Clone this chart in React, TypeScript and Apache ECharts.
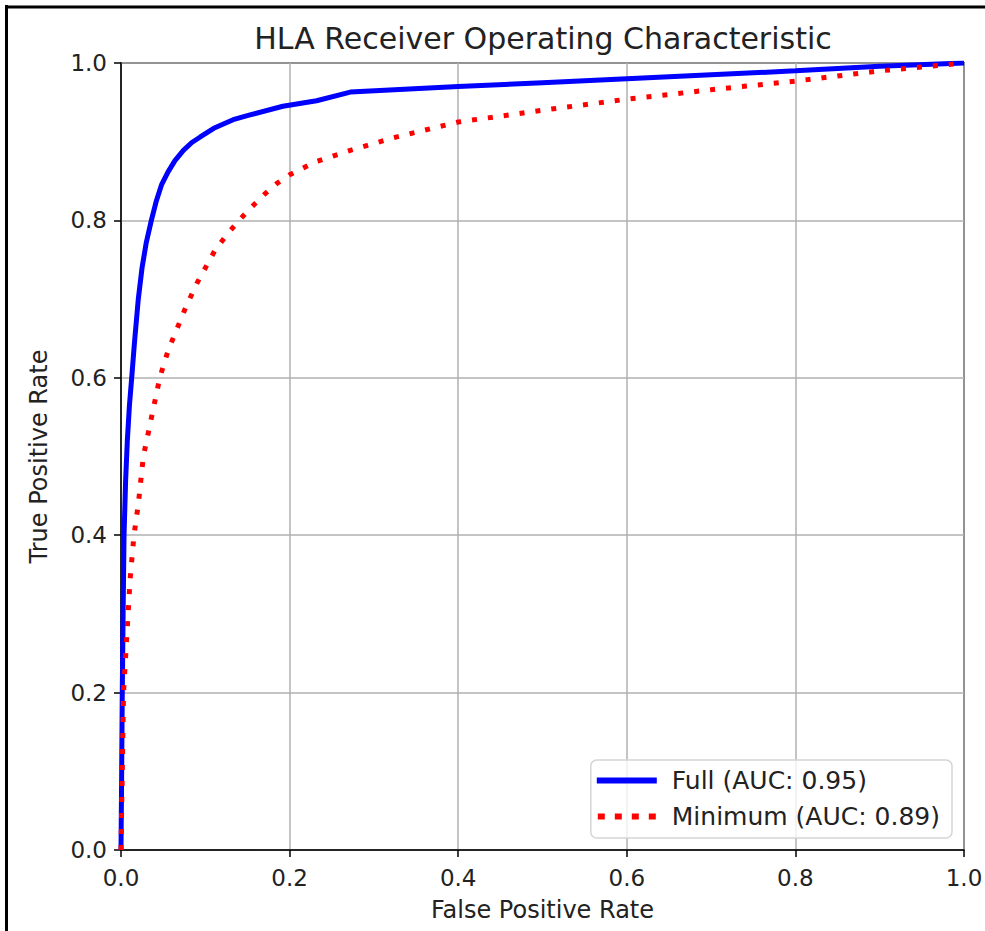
import React, { useEffect, useRef } from "react";
import * as echarts from "echarts";

const TITLE = "HLA Receiver Operating Characteristic";
const X_LABEL = "False Positive Rate";
const Y_LABEL = "True Positive Rate";
const FULL_NAME = "Full (AUC: 0.95)";
const MIN_NAME = "Minimum (AUC: 0.89)";

const fullFpr = [0, 0.0008, 0.0015, 0.0025, 0.0036, 0.0055, 0.0075, 0.01, 0.0127, 0.016, 0.0205, 0.025, 0.03, 0.036, 0.042, 0.048, 0.056, 0.064, 0.074, 0.084, 0.094, 0.11, 0.133, 0.153, 0.192, 0.232, 0.272, 0.4, 0.5, 0.6, 0.7, 0.8, 0.9, 1];
const fullTpr = [0, 0.1, 0.2, 0.3, 0.4, 0.47, 0.52, 0.565, 0.6, 0.645, 0.7, 0.74, 0.772, 0.8, 0.825, 0.845, 0.862, 0.876, 0.889, 0.899, 0.906, 0.917, 0.928, 0.934, 0.945, 0.952, 0.963, 0.97, 0.975, 0.98, 0.985, 0.99, 0.996, 1];

const minFpr = [0, 0.0015, 0.003, 0.0095, 0.0107, 0.0154, 0.0206, 0.0265, 0.038, 0.046, 0.056, 0.077, 0.09, 0.1115, 0.125, 0.14, 0.153, 0.17, 0.185, 0.2, 0.232, 0.272, 0.323, 0.4, 0.5, 0.6, 0.7, 0.8, 0.9, 1];
const minTpr = [0, 0.1, 0.2, 0.32, 0.343, 0.4, 0.44, 0.5, 0.559, 0.6, 0.635, 0.69, 0.72, 0.762, 0.781, 0.8, 0.815, 0.833, 0.847, 0.858, 0.875, 0.889, 0.905, 0.925, 0.94, 0.954, 0.966, 0.977, 0.99, 1];

const FONT = "DejaVu Sans";
const DOT_ICON = "path://M0,0h7v6h-7z M17,0h7v6h-7z M34,0h7v6h-7z M51,0h7v6h-7z";

export default function App() {
  const ref = useRef<HTMLDivElement>(null);
  useEffect(() => {
    if (!ref.current) return;
    const chart = echarts.init(ref.current, null, { renderer: "svg" });
    const axisCommon = {
      type: "value" as const,
      min: 0,
      max: 1,
      interval: 0.2,
      axisLine: { show: true, onZero: false, lineStyle: { color: "#000", width: 1.5 } },
      axisTick: { show: true, inside: false, length: 7, lineStyle: { color: "#000", width: 1.5 } },
      splitLine: { show: true, lineStyle: { color: "#b0b0b0", width: 1.5 } },
      nameTextStyle: { fontFamily: FONT, fontSize: 24, color: "#222" },
    };
    const labelCommon = {
      fontFamily: FONT,
      fontSize: 23,
      color: "#222",
      formatter: (v: number) => v.toFixed(1),
    };
    chart.setOption({
      animation: false,
      backgroundColor: "#fff",
      title: {
        text: TITLE,
        left: 538,
        textAlign: "center",
        top: 18,
        textStyle: { fontFamily: FONT, fontSize: 30, fontWeight: "normal", color: "#222" },
      },
      grid: {
        left: 121,
        right: 21,
        top: 63,
        bottom: 81,
        outerBoundsMode: "none",
        containLabel: false,
        show: true,
        borderColor: "#000",
        borderWidth: 1.5,
        backgroundColor: "transparent",
      },
      xAxis: {
        ...axisCommon,
        name: X_LABEL,
        nameLocation: "middle",
        nameGap: 48,
        axisLabel: { ...labelCommon, margin: 16 },
      },
      yAxis: {
        ...axisCommon,
        name: Y_LABEL,
        nameLocation: "middle",
        nameGap: 70,
        axisLabel: { ...labelCommon, margin: 14 },
      },
      legend: {
        orient: "vertical",
        right: 33,
        bottom: 93,
        padding: [8, 12, 9, 6],
        itemWidth: 60,
        itemHeight: 6,
        itemGap: 11,
        backgroundColor: "rgba(255,255,255,0.8)",
        borderColor: "#d5d5d5",
        borderWidth: 1.5,
        borderRadius: 6,
        itemStyle: { borderWidth: 0 },
        textStyle: { fontFamily: FONT, fontSize: 25, color: "#222", padding: [0, 0, 0, 10] },
        data: [
          { name: FULL_NAME, icon: "rect" },
          { name: MIN_NAME, icon: DOT_ICON },
        ],
      },
      graphic: [
        { type: "line", shape: { x1: 6.5, y1: 5, x2: 6.5, y2: 931 }, style: { stroke: "#000", lineWidth: 3 } },
        { type: "line", shape: { x1: 5, y1: 7, x2: 985, y2: 7 }, style: { stroke: "#000", lineWidth: 3 } },
      ],
      series: [
        {
          name: FULL_NAME,
          type: "line",
          symbol: "none",
          data: fullFpr.map((x, i) => [x, fullTpr[i]]),
          lineStyle: { color: "#0000ff", width: 5 },
          itemStyle: { color: "#0000ff" },
          z: 3,
        },
        {
          name: MIN_NAME,
          type: "line",
          symbol: "none",
          data: minFpr.map((x, i) => [x, minTpr[i]]),
          lineStyle: { color: "#ff0000", width: 5, type: [5, 11], cap: "butt" },
          itemStyle: { color: "#ff0000" },
          z: 4,
        },
      ],
    });
    return () => chart.dispose();
  }, []);
  return (
    <div
      ref={ref}
      style={{ position: "fixed", left: 0, top: 0, width: 985, height: 931 }}
    />
  );
}
